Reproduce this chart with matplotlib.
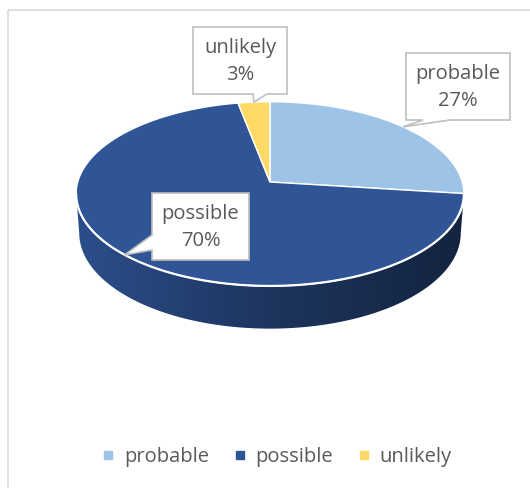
import numpy as np
import matplotlib.pyplot as plt
from matplotlib.patches import Polygon, Rectangle
from matplotlib.lines import Line2D
from matplotlib.colors import LinearSegmentedColormap, to_rgb

labels = ['probable', 'possible', 'unlikely']
values = [27, 70, 3]
colors = ['#9DC3E6', '#2F5597', '#FFD966']

TXT = '#595959'
FONT = 'Open Sans'

# simple perspective view of a flat cylinder (pixel units, y down)
CX, CY = 270, 182
F = 1315.0
D = 6.84
ELEV = np.radians(28.1)
H = 0.233


def proj(x, y, z):
    v = y * np.cos(ELEV) + z * np.sin(ELEV)
    w = D + z * np.cos(ELEV) - y * np.sin(ELEV)
    return CX + F * x / w, CY - F * v / w


def rim(t, y=0.0):
    t = np.radians(t)
    return proj(np.cos(t), y, np.sin(t))


fig = plt.figure(figsize=(5.30, 4.88), dpi=100)
ax = fig.add_axes([0, 0, 1, 1])
ax.set_xlim(0, 530)
ax.set_ylim(488, 0)
ax.axis('off')

# chart frame
ax.add_patch(Rectangle((8, 10), 540, 500, fill=False, ec='#D9D9D9', lw=1.2))

frac = np.array(values) / sum(values)
ends = 90 - 360 * np.cumsum(frac)
starts = ends + 360 * frac

# visible side of the cylinder
t_sil = np.degrees(np.arcsin(-np.cos(ELEV) / D))
side_lo, side_hi = -180 - t_sil, t_sil
xl, _ = rim(side_lo)
xr, _ = rim(side_hi)
for s, e, c in zip(starts, ends, colors):
    a, b = max(e, side_lo), min(s, side_hi)
    if a >= b:
        continue
    ts = np.linspace(a, b, 200)
    tx, ty = rim(ts)
    bx, by = rim(ts[::-1], -H)
    poly = Polygon(np.column_stack([np.r_[tx, bx], np.r_[ty, by]]),
                   closed=True, fc='none', ec='none')
    ax.add_patch(poly)
    base = np.array(to_rgb(c))
    cmap = LinearSegmentedColormap.from_list('side', [base * 0.92, base * 0.62, base * 0.42])
    im = ax.imshow(np.linspace(0, 1, 256)[None, :], cmap=cmap, aspect='auto',
                   extent=[xl, xr, max(by) + 2, min(ty) - 2], zorder=1)
    im.set_clip_path(poly)

# top face slices
for s, e, c in zip(starts, ends, colors):
    ts = np.linspace(s, e, 200)
    tx, ty = rim(ts)
    pts = np.column_stack([np.r_[CX, tx], np.r_[CY, ty]])
    ax.add_patch(Polygon(pts, closed=True, fc=c, ec='white', lw=1.0, zorder=2))

# white front rim
ts = np.linspace(side_lo, side_hi, 300)
ax.plot(*rim(ts), color='white', lw=1.6, zorder=3)


def callout(box, tip, base):
    x0, y0, x1, y1 = box
    side, p, q = base
    if side == 'bottom':
        pts = [(x0, y0), (x1, y0), (x1, y1), (q, y1), tip, (p, y1), (x0, y1)]
    else:  # left
        pts = [(x0, y0), (x1, y0), (x1, y1), (x0, y1), (x0, q), tip, (x0, p)]
    ax.add_patch(Polygon(pts, closed=True, fc='white', ec='#BFBFBF', lw=1.2, zorder=4))


boxes = [(406, 53, 510, 120), (152, 193, 249, 260), (193, 27, 287, 94)]
bases = [('bottom', 423, 450), ('left', 235, 250), ('bottom', 253, 267)]
for i, lab in enumerate(labels):
    mid = (starts[i] + ends[i]) / 2
    tip = rim(mid)
    callout(boxes[i], tip, bases[i])
    bx = (boxes[i][0] + boxes[i][2]) / 2
    by = (boxes[i][1] + boxes[i][3]) / 2
    ax.text(bx, by + 1, f'{lab}\n{values[i]}%', ha='center', va='center',
            fontsize=14.5, color=TXT, family=FONT, linespacing=1.4, zorder=5)

handles = [Line2D([], [], marker='s', ls='', color=c, markersize=5.5) for c in colors]
fig.legend(handles, labels, loc='center', bbox_to_anchor=(277 / 530, 1 - 457 / 488),
           ncol=3, frameon=False, handlelength=0.6, handletextpad=0.5, columnspacing=1.2,
           prop={'family': FONT, 'size': 14.5}, labelcolor=TXT)

fig.savefig('out.png', dpi=100, facecolor='white')
